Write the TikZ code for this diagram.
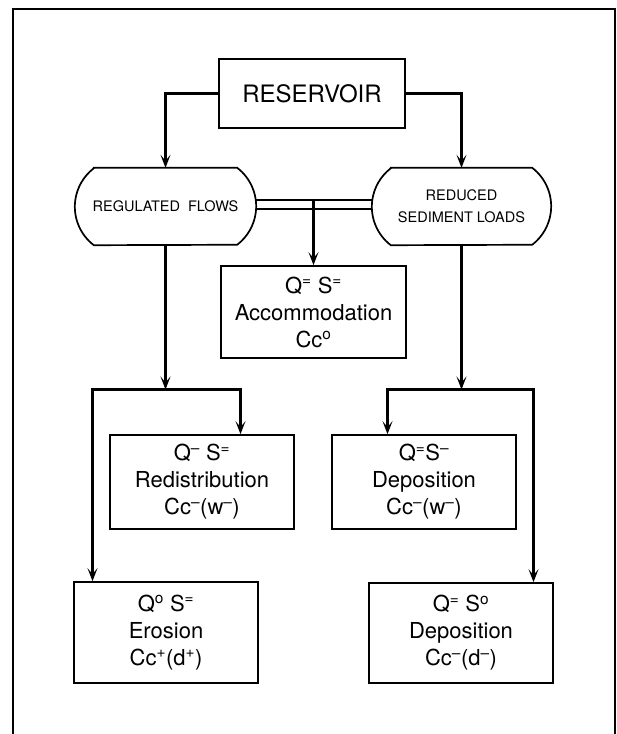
\documentclass[tikz,border=0pt]{standalone}
\usepackage{fontspec}
\setmainfont{TeX Gyre Heros}
\usetikzlibrary{arrows.meta,calc}
\newcommand{\hi}[1]{\textsuperscript{#1}}
\begin{document}
\begin{tikzpicture}[x=1pt,y=-1pt,
  conn/.style={line width=2.4pt},
  arr/.style={line width=2.4pt,-{Stealth[length=13pt,width=10pt,inset=6pt]}},
  boxnode/.style={draw,line width=1.7pt,minimum width=184pt,align=center,
    inner sep=0pt,font=\fontsize{22}{27}\selectfont},
  ovalnode/.style={inner sep=0pt,align=center,font=\fontsize{14.5}{22}\selectfont},
  ovalline/.style={line width=1.7pt}]
\useasboundingbox (0,0) rectangle (617,734);
% outer frame (open at the bottom)
\draw[line width=2.2pt] (13,734) -- (13,9) -- (615,9) -- (615,734);

\node[draw,line width=1.7pt,minimum width=186pt,minimum height=69pt,
  font=\fontsize{24}{28}\selectfont] (res) at (312,93.5) {RESERVOIR};

\node[ovalnode,minimum width=181pt,minimum height=77pt] (rf) at (165.5,206.5) {REGULATED\ \ FLOWS};
\node[ovalnode,minimum width=179pt,minimum height=77pt] (rsl) at (461.5,206.5) {REDUCED\\SEDIMENT LOADS};

\draw[ovalline] ([xshift=19pt]rf.north west) -- ([xshift=-19pt]rf.north east)
  arc[start angle=52.5,end angle=-52.5,radius=48.5pt]
  -- ([xshift=19pt]rf.south west)
  arc[start angle=232.5,end angle=127.5,radius=48.5pt] -- cycle;
\draw[ovalline] ([xshift=19pt]rsl.north west) -- ([xshift=-19pt]rsl.north east)
  arc[start angle=52.5,end angle=-52.5,radius=48.5pt]
  -- ([xshift=19pt]rsl.south west)
  arc[start angle=232.5,end angle=127.5,radius=48.5pt] -- cycle;

\node[boxnode,minimum width=185pt,minimum height=92pt] (acc) at (313.5,312)
  {Q\hi{=} S\hi{=}\\Accommodation\\Cc\hi{o}};
\node[boxnode,minimum height=94pt] (red) at (202,482)
  {Q\hi{–} S\hi{=}\\Redistribution\\Cc\hi{–}(w\hi{–})};
\node[boxnode,minimum height=94pt] (dep1) at (424,482)
  {Q\hi{=}S\hi{–}\\Deposition\\Cc\hi{–}(w\hi{–})};
\node[boxnode,minimum height=101pt] (ero) at (166,632.5)
  {Q\hi{o} S\hi{=}\\Erosion\\Cc\hi{+}(d\hi{+})};
\node[boxnode,minimum height=100pt] (dep2) at (461,633)
  {Q\hi{=} S\hi{o}\\Deposition\\Cc\hi{–}(d\hi{–})};

% reservoir to the two effects
\draw[arr] (res.west) -| (rf.north);
\draw[arr] (res.east) -| (rsl.north);

% double link between the ovals
\draw[conn] ([yshift=6.5pt]rf.east) -- ([yshift=6.5pt]rsl.west);
\draw[conn] ([yshift=-2.5pt]rf.east) -- ([yshift=-2.5pt]rsl.west);
\coordinate (jn) at (313.5,200);
\draw[arr] (jn) -- (jn |- acc.north);

% left branch
\coordinate (lj) at (165.5,389.5);
\draw[arr] (rf.south) -- (lj);
\draw[arr] (lj) -| ([xshift=38.5pt]red.north);
\draw[arr] (lj) -| ([xshift=-73.5pt]ero.north);

% right branch
\coordinate (rj) at (461.5,389.5);
\draw[arr] (rsl.south) -- (rj);
\draw[arr] (rj) -| ([xshift=-36.5pt]dep1.north);
\draw[arr] (rj) -| ([xshift=72.5pt]dep2.north);
\end{tikzpicture}
\end{document}
